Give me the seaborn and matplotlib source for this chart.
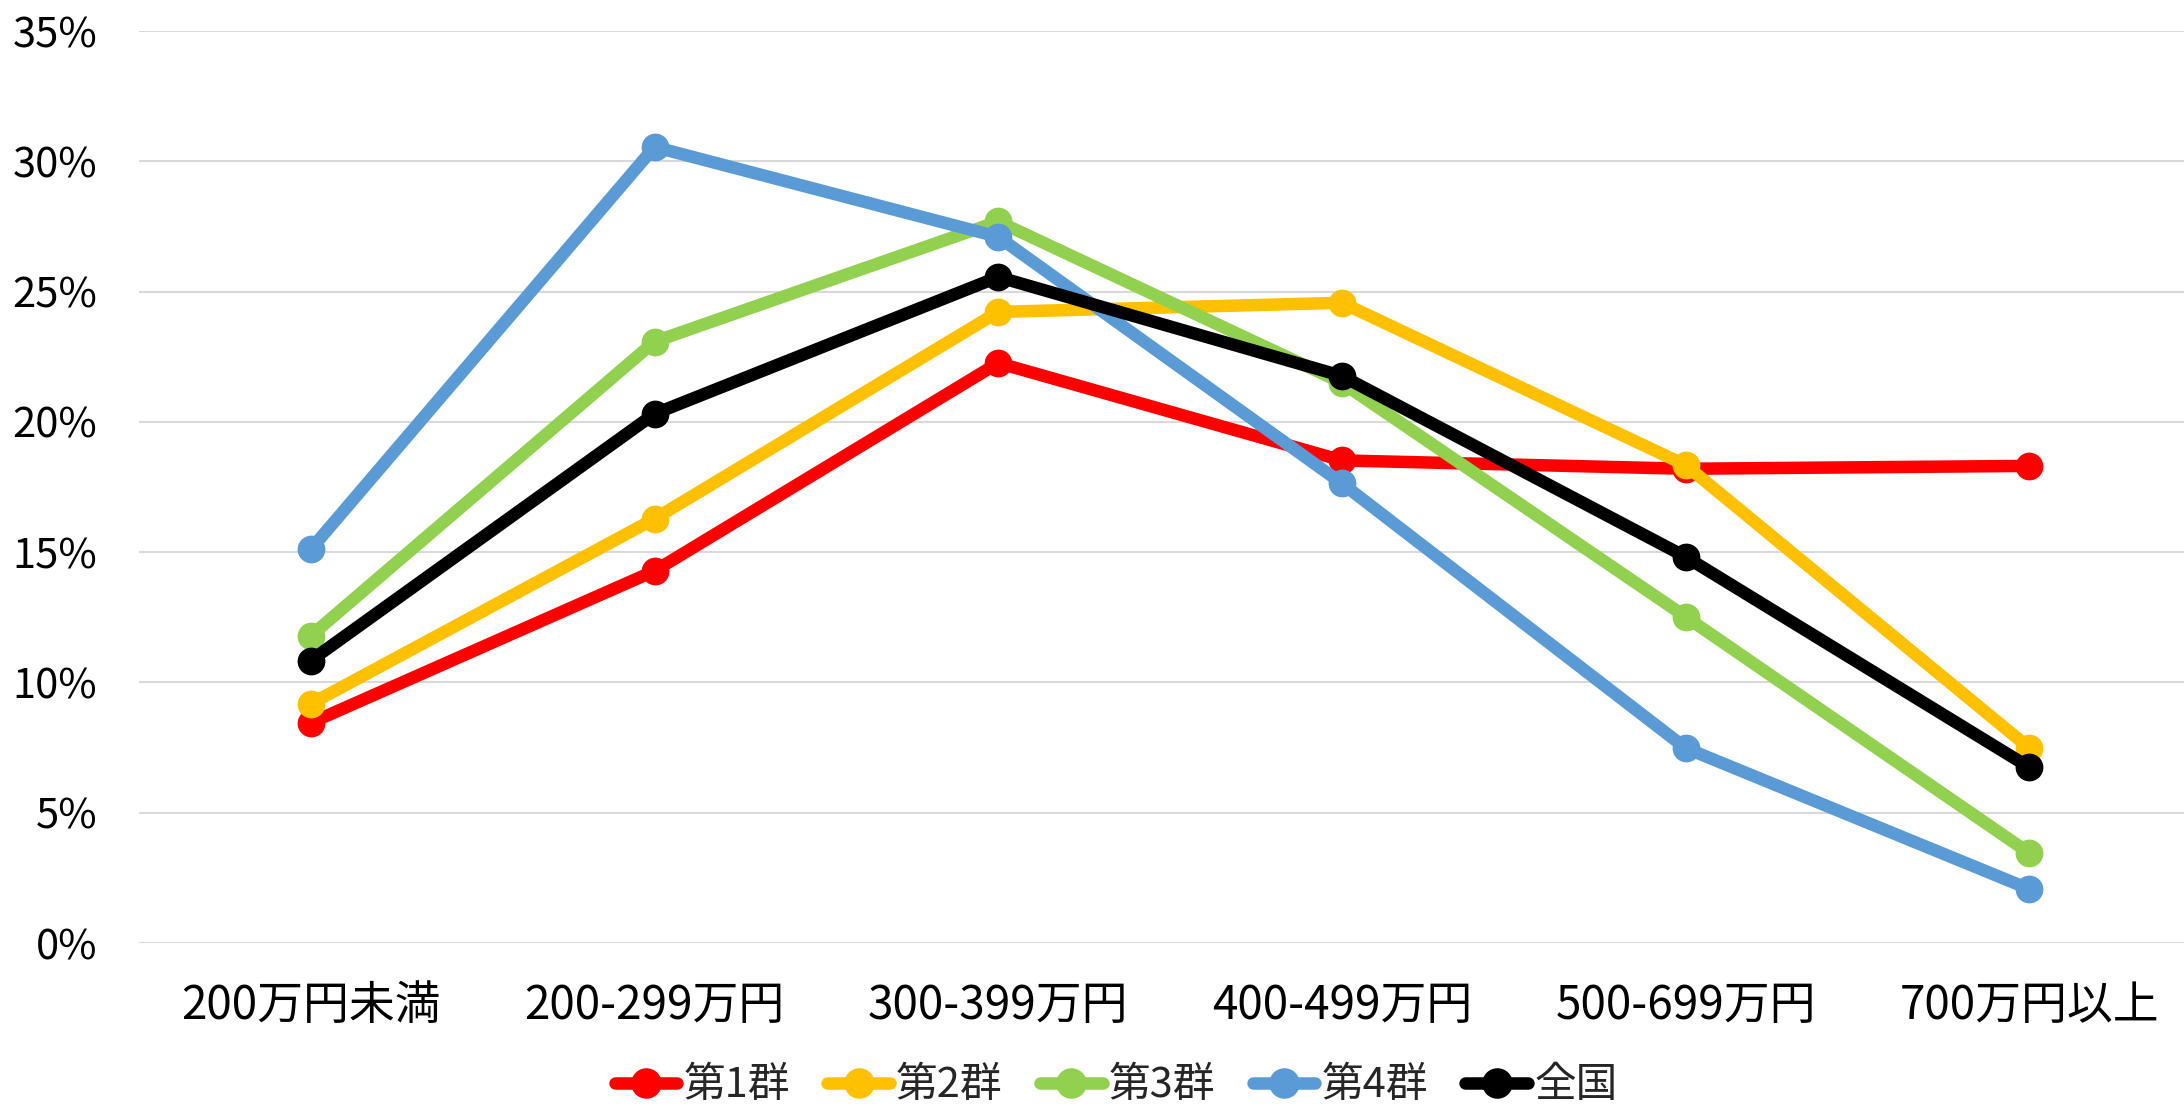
import matplotlib
matplotlib.use("Agg")
import matplotlib.pyplot as plt
import seaborn as sns
import pandas as pd
from matplotlib.ticker import FuncFormatter, MultipleLocator

categories = ["200万円未満", "200-299万円", "300-399万円", "400-499万円", "500-699万円", "700万円以上"]
series_names = ["第1群", "第2群", "第3群", "第4群", "全国"]
group1 = [8.45, 14.28, 22.26, 18.52, 18.20, 18.31]
group2 = [9.18, 16.28, 24.22, 24.57, 18.34, 7.48]
group3 = [11.79, 23.08, 27.69, 21.50, 12.52, 3.45]
group4 = [15.11, 30.55, 27.10, 17.64, 7.48, 2.07]
national = [10.84, 20.31, 25.56, 21.76, 14.82, 6.74]
colors = ["#FF0000", "#FFC000", "#92D050", "#5B9BD5", "#000000"]

all_values = [group1, group2, group3, group4, national]
rows = []
for name, vals in zip(series_names, all_values):
    for c, v in zip(categories, vals):
        rows.append({"category": c, "series": name, "value": v})
df = pd.DataFrame(rows)

sns.set_theme(style="white")
plt.rcParams["font.family"] = ["Noto Sans CJK JP", "DejaVu Sans"]

fig = plt.figure(figsize=(21.84, 11.11), dpi=100)
ax = fig.add_axes([139 / 2184, 1 - 943 / 1111, 1 - 139 / 2184, (943 - 31) / 1111])

sns.lineplot(data=df, x="category", y="value", hue="series", hue_order=series_names,
             palette=colors, marker="o", markersize=20, markeredgewidth=0,
             linewidth=9, sort=False, ax=ax, legend=True)

ax.set_ylim(0, 35)
ax.set_xlim(-0.5, 5.45)
ax.yaxis.set_major_locator(MultipleLocator(5))
ax.yaxis.set_major_formatter(FuncFormatter(lambda v, p: f"{v:.0f}%"))
ax.grid(axis="y", color="#D9D9D9", linewidth=1.5)
ax.set_axisbelow(True)
for s in ax.spines.values():
    s.set_visible(False)
ax.set_xlabel("")
ax.set_ylabel("")
ax.tick_params(axis="y", labelsize=30, pad=30, length=0, colors="#000000")
ax.tick_params(axis="x", labelsize=33, pad=28, length=0, colors="#000000")

handles, labels = ax.get_legend_handles_labels()
ax.get_legend().remove()
fig.legend(handles, labels, loc="center", bbox_to_anchor=(1116 / 2184, 1 - 1086 / 1111),
           ncol=5, frameon=False, fontsize=30, handlelength=1.5, handletextpad=0.15,
           columnspacing=0.9, markerscale=1.1)

fig.savefig("out.png", dpi=100)
